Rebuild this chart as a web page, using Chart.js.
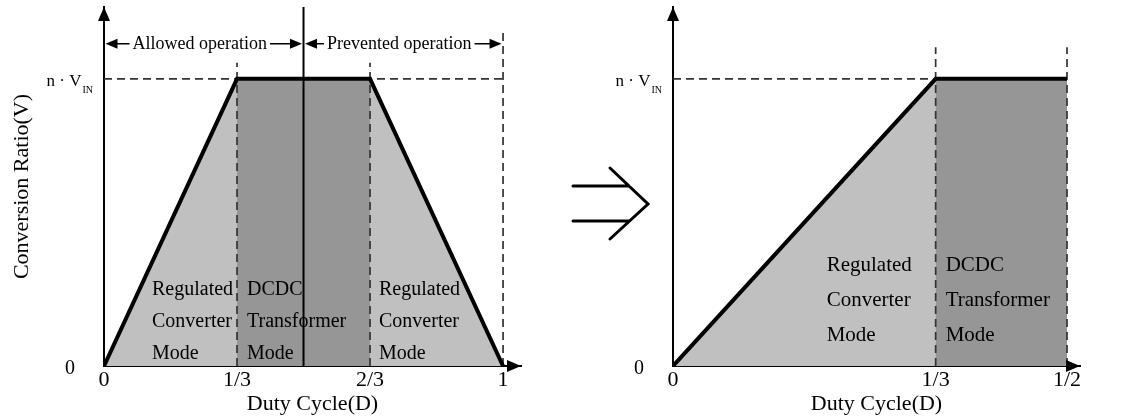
<!DOCTYPE html>
<html>
<head>
<meta charset="utf-8">
<script src="https://cdn.jsdelivr.net/npm/chart.js@4"></script>
<style>
  html, body { margin: 0; padding: 0; background: #fff; }
  #wrap { position: relative; width: 1128px; height: 420px; }
  #left { position: absolute; left: 0; top: 0; }
  #right { position: absolute; left: 560px; top: 0; }
</style>
</head>
<body>
<div id="wrap">
  <canvas id="left" width="560" height="420"></canvas>
  <canvas id="right" width="568" height="420"></canvas>
</div>
<script>
// left panel: full duty range
var dutyLeft = [0, 1/3, 2/3, 1];
var ratioLeft = [0, 1, 1, 0];
var darkLeft = [1/3, 2/3];
var guideLeftX = [1/3, 2/3, 1];
var guideLeftTop = [1.056, 1.056, 1.17];
var dividerLeft = 0.5;
var xTicksLeft = [0, 1/3, 2/3, 1];
var xLabelsLeft = ['0', '1/3', '2/3', '1'];
var spanEdges = [0, 0.5, 1];
var spanLabels = ['Allowed operation', 'Prevented operation'];

// right panel: restricted to D <= 1/2
var dutyRight = [0, 1/3, 1/2];
var ratioRight = [0, 1, 1];
var darkRight = [1/3, 1/2];
var guideRightX = [1/3, 1/2];
var guideRightTop = [1.11, 1.11];
var xTicksRight = [0, 1/3, 1/2];
var xLabelsRight = ['0', '1/3', '1/2'];

var yTicks = [0, 1];
var yLabels = ['0', 'n \u00b7 V'];
var ySubs = ['', 'IN'];
var regLines = ['Regulated', 'Converter', 'Mode'];
var dcdcLines = ['DCDC', 'Transformer', 'Mode'];

var SERIF = '"Liberation Serif", "DejaVu Serif", serif';
var LIGHT = '#c0c0c0', DARK = '#969696', DASH = '#333';

function pts(xs, ys) {
  return xs.map(function (x, i) { return {x: x, y: ys[i]}; });
}

function tri(ctx, x, y, dir, len, half) {
  ctx.beginPath();
  ctx.moveTo(x, y);
  if (dir === 'up') { ctx.lineTo(x - half, y + len); ctx.lineTo(x + half, y + len); }
  if (dir === 'right') { ctx.lineTo(x - len, y - half); ctx.lineTo(x - len, y + half); }
  if (dir === 'left') { ctx.lineTo(x + len, y - half); ctx.lineTo(x + len, y + half); }
  ctx.closePath();
  ctx.fill();
}

var decor = {
  id: 'decor',
  afterDraw: function (chart, args, o) {
    var ctx = chart.ctx, a = chart.chartArea, xs = chart.scales.x, ys = chart.scales.y;
    ctx.save();
    ctx.fillStyle = '#000';
    ctx.strokeStyle = '#000';

    // axis arrow heads
    tri(ctx, a.left, a.top, 'up', 14, 6);
    tri(ctx, a.right, a.bottom, 'right', 14, 6);

    // y tick labels (with subscript)
    ctx.textAlign = 'right';
    ctx.textBaseline = 'alphabetic';
    ctx.font = '20px ' + SERIF;
    ctx.fillText(yLabels[0], a.left - 29, ys.getPixelForValue(yTicks[0]) + 8);
    var y1 = ys.getPixelForValue(yTicks[1]);
    ctx.font = '10px ' + SERIF;
    var subW = ctx.measureText(ySubs[1]).width;
    ctx.fillText(ySubs[1], a.left - 11, y1 + 14);
    ctx.font = '17px ' + SERIF;
    ctx.fillText(yLabels[1], a.left - 12 - subW, y1 + 7);

    // mode labels
    ctx.textAlign = 'left';
    ctx.font = o.modeSize + 'px ' + SERIF;
    o.modes.forEach(function (m) {
      var x = xs.getPixelForValue(m.at) + m.dx;
      m.lines.forEach(function (t, r) {
        ctx.fillText(t, x, a.bottom + o.rows[r]);
      });
    });

    // operation spans
    if (o.spans) {
      var yy = ys.getPixelForValue(o.spanLevel);
      ctx.font = '18px ' + SERIF;
      ctx.textAlign = 'center';
      ctx.textBaseline = 'middle';
      ctx.lineWidth = 1.5;
      for (var i = 0; i < spanLabels.length; i++) {
        var x0 = xs.getPixelForValue(spanEdges[i]) + 1.5;
        var x1 = xs.getPixelForValue(spanEdges[i + 1]) - 1.5;
        var w = ctx.measureText(spanLabels[i]).width;
        var cx = (x0 + x1) / 2 - 4;
        ctx.beginPath();
        ctx.moveTo(x0 + 8, yy); ctx.lineTo(cx - w / 2 - 3, yy);
        ctx.moveTo(cx + w / 2 + 3, yy); ctx.lineTo(x1 - 8, yy);
        ctx.stroke();
        tri(ctx, x0, yy, 'left', 12, 5);
        tri(ctx, x1, yy, 'right', 12, 5);
        ctx.fillText(spanLabels[i], cx, yy + 1);
      }
    }

    // the "implies" arrow between the panels
    if (o.implies) {
      ctx.lineWidth = 3;
      ctx.lineCap = 'round';
      ctx.lineJoin = 'miter';
      ctx.beginPath();
      ctx.moveTo(13, 186); ctx.lineTo(69, 186);
      ctx.moveTo(13, 221); ctx.lineTo(69, 221);
      ctx.moveTo(50, 168); ctx.lineTo(88, 204); ctx.lineTo(50, 239);
      ctx.stroke();
    }
    ctx.restore();
  }
};

function buildDatasets(duty, ratio, dark, gx, gtop, divider) {
  var ds = [{
    data: pts(duty, ratio), showLine: true, borderColor: '#000',
    borderWidth: 4, borderJoinStyle: 'miter', fill: false, order: 0
  }];
  if (divider !== null) {
    ds.push({
      data: [{x: divider, y: 0}, {x: divider, y: 1.25}], showLine: true,
      borderColor: '#000', borderWidth: 2, fill: false, order: 1
    });
  }
  gx.forEach(function (x, i) {
    ds.push({
      data: [{x: x, y: 0}, {x: x, y: gtop[i]}], showLine: true,
      borderColor: DASH, borderWidth: 1.7, borderDash: [8, 5], fill: false, order: 1
    });
  });
  ds.push({
    data: [{x: 0, y: 1}, {x: gx[gx.length - 1], y: 1}], showLine: true,
    borderColor: DASH, borderWidth: 1.7, borderDash: [8, 5], fill: false, order: 1
  });
  ds.push({
    data: pts(dark, [1, 1]), showLine: true, fill: 'origin',
    backgroundColor: DARK, borderColor: 'rgba(0,0,0,0)', borderWidth: 0, order: 2
  });
  ds.push({
    data: pts(duty, ratio), showLine: true, fill: 'origin',
    backgroundColor: LIGHT, borderColor: 'rgba(0,0,0,0)', borderWidth: 0, order: 3
  });
  return ds;
}

function makeChart(id, o) {
  return new Chart(document.getElementById(id).getContext('2d'), {
    type: 'scatter',
    data: {datasets: o.datasets},
    plugins: [decor],
    options: {
      responsive: false,
      animation: false,
      layout: {padding: {top: 7, right: o.padRight, bottom: 0, left: 0}},
      elements: {point: {radius: 0}, line: {tension: 0}},
      plugins: {legend: {display: false}, tooltip: {enabled: false}, decor: o.decor},
      scales: {
        x: {
          type: 'linear', min: 0, max: o.xMax, z: 1,
          grid: {display: false, drawTicks: false},
          border: {display: true, color: '#000', width: 2},
          afterBuildTicks: function (s) { s.ticks = o.xTicks.map(function (v) { return {value: v}; }); },
          afterFit: function (s) { s.height = 54; s.paddingLeft = 0; s.paddingRight = 0; },
          ticks: {
            autoSkip: false, maxRotation: 0, padding: 1, color: '#000',
            font: {family: SERIF, size: 22},
            callback: function (v, i) { return o.xLabels[i]; }
          },
          title: {
            display: true, text: 'Duty Cycle(D)', color: '#000',
            font: {family: SERIF, size: 22}, padding: {top: 3, bottom: 3}
          }
        },
        y: {
          type: 'linear', min: 0, max: 1.25, z: 1,
          grid: {display: false, drawTicks: false},
          border: {display: true, color: '#000', width: 2},
          ticks: {display: false},
          afterFit: function (s) { s.width = o.yWidth; s.paddingTop = 0; s.paddingBottom = 0; },
          title: {
            display: o.yTitle, text: 'Conversion Ratio(V)', color: '#000',
            font: {family: SERIF, size: 22}, padding: {top: 9, bottom: 9}
          }
        }
      }
    }
  });
}

makeChart('left', {
  datasets: buildDatasets(dutyLeft, ratioLeft, darkLeft, guideLeftX, guideLeftTop, dividerLeft),
  xTicks: xTicksLeft, xLabels: xLabelsLeft, xMax: 1.045,
  padRight: 39, yWidth: 104, yTitle: true,
  decor: {
    modeSize: 20, rows: [-71, -39, -7],
    modes: [
      {at: 0, dx: 48, lines: regLines},
      {at: 1/3, dx: 10, lines: dcdcLines},
      {at: 2/3, dx: 9, lines: regLines}
    ],
    spans: true, spanLevel: 1.122, implies: false
  }
});

makeChart('right', {
  datasets: buildDatasets(dutyRight, ratioRight, darkRight, guideRightX, guideRightTop, null),
  xTicks: xTicksRight, xLabels: xLabelsRight, xMax: 0.5165,
  padRight: 48, yWidth: 113, yTitle: false,
  decor: {
    modeSize: 21, rows: [-95, -60, -25],
    modes: [
      {at: 1/3, dx: -109, lines: regLines},
      {at: 1/3, dx: 10, lines: dcdcLines}
    ],
    spans: false, implies: true
  }
});
</script>
</body>
</html>
